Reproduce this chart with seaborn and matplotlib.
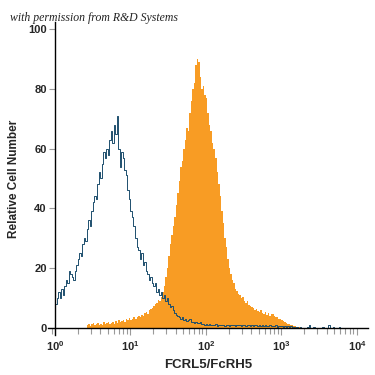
import numpy as np
import pandas as pd
import matplotlib
matplotlib.use('Agg')
import matplotlib.pyplot as plt
import seaborn as sns
from matplotlib.ticker import FixedLocator, FixedFormatter, LogLocator, NullFormatter

# histogram channels: 200 bins of 0.02 decade from 10^0 to 10^4 (bin centres in log10)
log_centres = np.round(np.arange(0.01, 4.0, 0.02), 3)

# isotype control (blue outline), 10 values per row = 0.2 decade
control = [8, 10, 12, 10, 13, 11, 14, 16, 15, 19,
           18, 17, 16, 19, 21, 23, 25, 24, 28, 30,
           29, 33, 36, 34, 39, 42, 44, 43, 48, 52,
           50, 55, 59, 57, 60, 58, 63, 66, 62, 68,
           65, 71, 60, 54, 59, 57, 53, 51, 46, 43,
           39, 37, 34, 30, 27, 26, 23, 25, 21, 22,
           19, 18, 16, 17, 15, 14, 15, 12, 13, 11,
           12, 10, 11, 9, 10, 8, 7, 7.5, 6, 5,
           4.5, 4, 3.8, 3.2, 3.6, 2.8, 3.0, 2.4, 2.6, 2.9,
           2.2, 2.0, 1.7, 2.1, 1.8, 1.6, 1.9, 1.4, 1.5, 1.2,
           1.4, 1.1, 1.3, 0.9, 1.2, 1.0, 1.3, 0.8, 1.1, 1.0,
           0.9, 1.2, 0.8, 1.0, 1.1, 0.7, 1.0, 0.9, 1.2, 0.8,
           1.0, 0.9, 1.1, 0.7, 0.9, 1.0, 0.8, 1.1, 0.9, 0.7,
           1.0, 0.8, 0.9, 1.1, 0.7, 0.9, 0.8, 1.0, 0.6, 0.9,
           0.8, 0.7, 1.0, 0.6, 0.8, 0.7, 0.9, 0.5, 0.8, 0.6,
           0.7, 0.5, 0.8, 0.4, 0.6, 0.3, 0.6, 0.2, 0.5, 0,
           0.4, 0, 0.3, 0, 0.2, 0, 0, 0.3, 1.2, 0,
           0, 0.4, 0, 0, 0, 0, 0, 0.3, 0, 0,
           0, 0.9, 0, 0, 0.4, 0, 0, 0, 0.3, 0,
           0, 0, 0, 0, 0, 0, 0, 0, 0, 0]

# FCRL5 stained cells (orange filled)
stained = [0, 0, 0, 0, 0, 0, 0, 0, 0, 0,
           0, 0, 0, 0, 0, 0, 0, 0, 0, 0,
           0, 1.2, 1.5, 0.8, 1.3, 1.6, 0.9, 1.4, 1.8, 1.0,
           1.5, 1.2, 1.9, 1.3, 1.6, 2.0, 1.4, 1.7, 2.2, 1.5,
           2.3, 1.8, 2.6, 2.0, 2.4, 2.8, 2.2, 3.0, 2.6, 3.4,
           2.8, 3.2, 3.6, 3.0, 3.8, 4.2, 3.6, 4.5, 4.0, 5.0,
           5.4, 4.8, 6.0, 6.4, 6.8, 7.4, 8.0, 8.5, 9.5, 9.0,
           10.5, 12, 14, 17, 20, 24, 28, 31, 34, 37,
           41, 45, 49, 54, 56, 60, 63, 67, 66, 72,
           76, 80, 82, 88, 90, 89, 84, 80, 81, 78,
           77, 72, 68, 66, 62, 60, 57, 52, 48, 44,
           39, 35, 30, 27, 23, 20, 18, 16, 15, 13,
           12.5, 11.5, 11, 10, 10.5, 9, 8.5, 9, 7.8, 7.5,
           7, 6.8, 6.2, 6.5, 5.8, 5.5, 6, 5.2, 4.8, 5.3,
           4.5, 5.0, 4.2, 4.8, 4.6, 4.0, 3.6, 3.8, 3.2, 3.0,
           2.6, 2.3, 2.0, 1.8, 1.5, 1.4, 1.2, 1.0, 0.8, 0.7,
           0.5, 0.4, 0.3, 0.2, 0, 0, 0, 0, 0, 0,
           0, 0, 0, 0, 0, 0, 0, 0, 0, 0,
           0, 0, 0, 0, 0, 0, 0, 0, 0, 0,
           0, 0, 0, 0, 0, 0, 0, 0, 0, 0]

yticks = [0, 20, 40, 60, 80, 100]
xdecades = [0, 1, 2, 3, 4]

df = pd.DataFrame({'fluor': 10 ** log_centres, 'control': control, 'stained': stained})

sns.set_style('white')
plt.rcParams['font.family'] = ['Liberation Sans Narrow', 'Liberation Sans', 'DejaVu Sans']
plt.rcParams['mathtext.default'] = 'regular'

fig = plt.figure(figsize=(3.75, 3.75), dpi=100)
ax = fig.add_axes([0.128, 0.1067, 0.853, 0.8347])

sns.histplot(data=df, x='fluor', weights='stained', bins=200, binrange=(0, 4),
             log_scale=True, element='step', fill=True, color='#F89C24',
             alpha=1, linewidth=0, ax=ax)
sns.histplot(data=df, x='fluor', weights='control', bins=200, binrange=(0, 4),
             log_scale=True, element='step', fill=False, color='#1E4F6E',
             linewidth=0.7, ax=ax)

ax.set_xlim(10 ** -0.093, 10 ** 4.146)
ax.set_ylim(-2.3, 102.3)

# spines sit on the data origin and overshoot a little, like the cytometer export
for s in ['top', 'right']:
    ax.spines[s].set_visible(False)
ax.spines['bottom'].set_position(('data', 0))
ax.spines['left'].set_position(('data', 1))
ax.spines['bottom'].set_linewidth(1.0)
ax.spines['left'].set_linewidth(1.0)
ax.spines['bottom'].set_color('black')
ax.spines['left'].set_color('black')

ax.yaxis.set_major_locator(FixedLocator(yticks))
ax.set_yticklabels([str(v) for v in yticks], fontweight='bold', fontsize=8)
ax.xaxis.set_major_locator(FixedLocator([10 ** d for d in xdecades]))
ax.xaxis.set_major_formatter(FixedFormatter(['$10^{%d}$' % d for d in xdecades]))
ax.xaxis.set_minor_locator(LogLocator(base=10, subs=np.arange(2, 10), numticks=20))
ax.xaxis.set_minor_formatter(NullFormatter())
ax.tick_params(axis='y', which='major', direction='out', length=4, width=0.8,
               color='#9a9a9a', left=True, pad=2)
ax.tick_params(axis='x', which='major', direction='out', length=5, width=0.8,
               color='#9a9a9a', bottom=True, labelsize=8, pad=3)
ax.tick_params(axis='x', which='minor', direction='out', length=4, width=0.8,
               color='#9a9a9a', bottom=True)
for lab in ax.get_xticklabels():
    lab.set_fontweight('bold')

ax.set_xlabel('FCRL5/FcRH5', fontsize=9.5, fontweight='bold', labelpad=4)
ax.set_ylabel('Relative Cell Number', fontsize=8.5, fontweight='bold', labelpad=6)

fig.text(10 / 375, 1 - 21 / 375, 'with permission from R&D Systems', fontsize=8.5,
         style='italic', family='Liberation Serif', color='#222222')

fig.savefig('out.png', dpi=100)
